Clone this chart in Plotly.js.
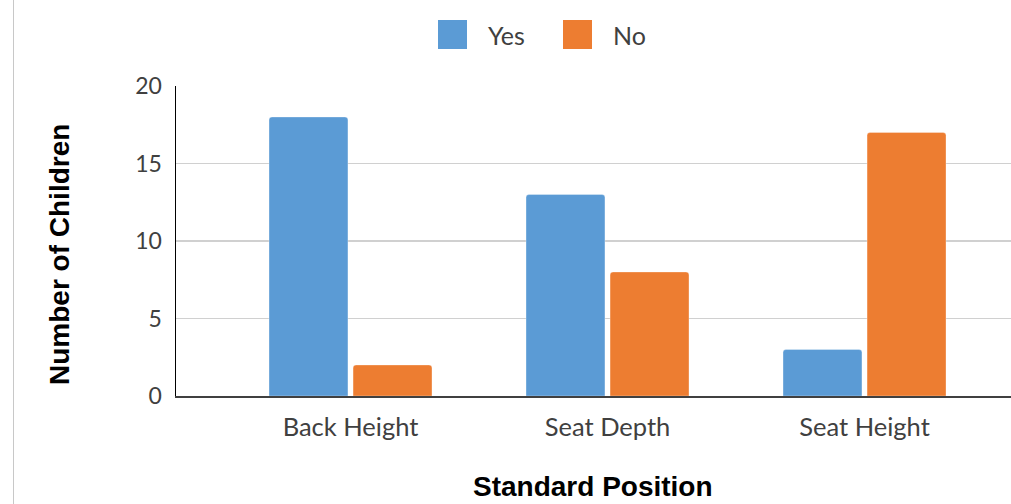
<!DOCTYPE html>
<html>
<head>
<meta charset="utf-8">
<script src="https://cdn.plot.ly/plotly-3.0.1.min.js"></script>
<style>
html,body{margin:0;padding:0;background:#fff;}
#wrap{position:relative;width:1011px;height:504px;overflow:hidden;}
#chart{width:1011px;height:504px;}
#edge{position:absolute;left:13px;top:0;width:1px;height:504px;background:#c8c8c8;}
</style>
</head>
<body>
<div id="wrap"><div id="chart"></div><div id="edge"></div></div>
<script>
const categories = ["Back Height", "Seat Depth", "Seat Height"];
const seriesNames = ["Yes", "No"];
const yesValues = [18, 13, 3];
const noValues = [2, 8, 17];
const seriesColors = ["#5B9BD5", "#ED7D31"];
const yTickVals = [0, 5, 10, 15, 20];
const xTitle = "Standard Position";
const yTitle = "Number of Children";

const W = 1011, H = 504;
const M = {l: 176, r: 0, t: 86, b: 108};
const pw = W - M.l - M.r, ph = H - M.t - M.b;
const px = x => (x - M.l) / pw;
const py = y => 1 - (y - M.t) / ph;

const traces = [yesValues, noValues].map((vals, i) => ({
  type: "bar",
  name: seriesNames[i],
  x: categories,
  y: vals,
  marker: {color: seriesColors[i], cornerradius: 3, line: {color: "rgba(255,255,255,0.6)", width: 0.5}},
  showlegend: false,
  hoverinfo: "x+y+name"
}));

// manual legend
const legendBoxes = [[438, 467], [563, 592]];
const legendTextX = [486, 611];
const shapes = legendBoxes.map((b, i) => ({
  type: "rect", xref: "paper", yref: "paper",
  x0: px(b[0]), x1: px(b[1]), y0: py(49), y1: py(20),
  fillcolor: seriesColors[i], line: {width: 0}
}));
const titleFont = {family: "Liberation Sans, Arial, sans-serif", size: 28, color: "#000", weight: "bold"};
const annotations = seriesNames.map((n, i) => ({
  text: n, xref: "paper", yref: "paper", x: px(legendTextX[i]), y: py(35),
  xanchor: "left", yanchor: "middle", showarrow: false,
  font: {family: "Lato, sans-serif", size: 25, color: "#404040"}
})).concat([
  {text: "<b>" + xTitle + "</b>", xref: "paper", yref: "paper", x: px(593), y: py(503),
   xanchor: "center", yanchor: "bottom", showarrow: false, font: titleFont,
   borderpad: 0},
  {text: "<b>" + yTitle + "</b>", xref: "paper", yref: "paper", x: px(59), y: py(254),
   xanchor: "center", yanchor: "middle", showarrow: false, textangle: -90, font: titleFont}
]);

const layout = {
  width: W, height: H,
  margin: M,
  paper_bgcolor: "#fff", plot_bgcolor: "#fff",
  font: {family: "Lato, sans-serif", size: 23, color: "#404040"},
  bargap: 0.346, bargroupgap: 0.061, barmode: "group",
  showlegend: false,
  xaxis: {
    type: "category",
    range: [-0.679, 2.570],
    showline: true, linecolor: "#404040", linewidth: 2,
    ticks: "", ticklabelstandoff: 7,
    tickfont: {family: "Lato, sans-serif", size: 25.5, color: "#404040"},
    showgrid: false, fixedrange: true
  },
  yaxis: {
    range: [0, 20],
    tickvals: yTickVals,
    showline: true, linecolor: "#000", linewidth: 1.5,
    showgrid: true, gridcolor: "#d0d0d0", gridwidth: 1.5,
    zeroline: false, ticks: "", ticklabelstandoff: 8,
    tickfont: {family: "Lato, sans-serif", size: 23, color: "#404040"},
    fixedrange: true
  },
  shapes: shapes,
  annotations: annotations
};

Plotly.newPlot("chart", traces, layout, {displayModeBar: false, staticPlot: true});
</script>
</body>
</html>
